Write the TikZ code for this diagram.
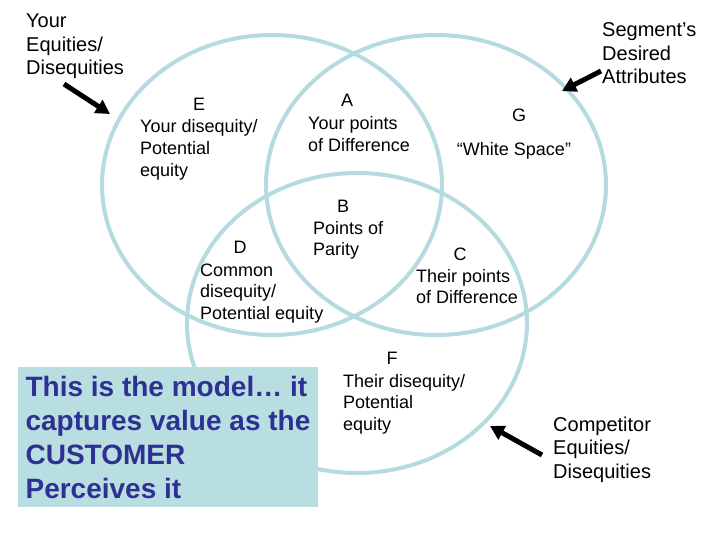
\documentclass[tikz,border=0pt]{standalone}
\usepackage{fontspec}
\setmainfont{Liberation Sans}
\usetikzlibrary{arrows.meta}
\definecolor{venn}{HTML}{B5DADF}
\definecolor{boxfill}{HTML}{B9DEE2}
\definecolor{navy}{HTML}{2E3192}

\begin{document}
\begin{tikzpicture}[x=1pt,y=-1pt,
ring/.style={draw=venn,line width=4pt},
let/.style={anchor=base,inner sep=0pt,font=\fontsize{18}{21.6}\selectfont},
reg/.style={anchor=base west,inner sep=0pt,align=left,
font=\fontsize{18}{21.6}\selectfont},
side/.style={anchor=base west,inner sep=0pt,align=left,
font=\fontsize{20}{23.5}\selectfont},
pt/.style={-{Triangle[length=14pt,width=15pt]},line width=5pt}
]
\useasboundingbox (0,0) rectangle (720,540);
% the three rings
\draw[ring] (272,185) ellipse [x radius=170pt,y radius=150pt];
\draw[ring] (436,185) ellipse [x radius=170pt,y radius=150pt];
\draw[ring] (357,323) ellipse [x radius=170pt,y radius=150pt];
% the seven regions (base = last line)
\node[let] (eL) at (199,111) {E};
\node[reg] (eT) at (140,176.2) {Your disequity/\\Potential\\equity};
\node[let] (aL) at (347,107) {A};
\node[reg] (aT) at (308,151.6) {Your points\\of Difference};
\node[let] (gL) at (519,122) {G};
\node[let] (gT) at (514,156) {“White Space”};
\node[let] (bL) at (343,212) {B};
\node[reg] (bT) at (313,255.6) {Points of\\Parity};
\node[let] (dL) at (240,253) {D};
\node[reg] (dT) at (200,319.2) {Common\\disequity/\\Potential equity};
\node[let] (cL) at (460,260) {C};
\node[reg] (cT) at (416,303.6) {Their points\\of Difference};
\node[let] (fL) at (392,364) {F};
\node[reg] (fT) at (343,430.2) {Their disequity/\\Potential\\equity};
% side labels and their arrows
\node[side] (you) at (26,75) {Your\\Equities/\\Disequities};
\node[side] (seg) at (602,84) {Segment’s\\Desired\\Attributes};
\node[side] (comp) at (553,478) {Competitor\\Equities/\\Disequities};
\coordinate (youA) at (64,84);
\coordinate (youB) at (110,114);
\coordinate (segA) at (601,71);
\coordinate (segB) at (562,91);
\coordinate (compA) at (542,455);
\coordinate (compB) at (490,426);
\foreach \a/\b in {youA/youB,segA/segB,compA/compB}
\draw[pt] (\a) -- (\b);
% the note
\node[fill=boxfill,minimum width=300pt,minimum height=140pt,align=left,
text=navy,font=\bfseries\fontsize{28}{34}\selectfont] (note) at (168,437)
{This is the model… it\\captures value as the\\CUSTOMER\\Perceives it};
\end{tikzpicture}
\end{document}
